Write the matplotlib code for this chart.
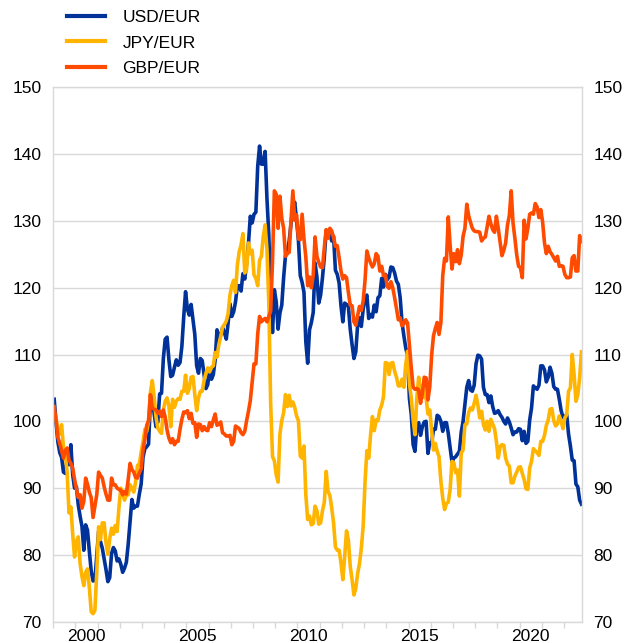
import matplotlib
matplotlib.use('Agg')
import matplotlib.pyplot as plt
import numpy as np

# monthly index values, Jan 1999 - Oct 2022
usd_eur = [
    103.3, 99.8, 96.9, 95.3, 94.6, 92.4, 92.2, 94.4, 93.5, 96.5, 92.0, 90.0,        # 1999
    90.2, 87.5, 85.8, 84.3, 80.7, 84.5, 83.7, 80.5, 77.6, 76.1, 76.2, 79.9,         # 2000
    83.5, 82.0, 81.0, 79.4, 77.8, 76.0, 76.6, 80.2, 81.1, 80.6, 79.1, 79.4,         # 2001
    78.6, 77.4, 78.0, 78.9, 81.6, 85.0, 88.3, 87.0, 87.3, 87.3, 89.1, 90.6,         # 2002
    94.6, 95.9, 96.2, 96.6, 103.1, 103.8, 101.2, 99.2, 99.9, 104.1, 104.2, 109.4,   # 2003
    112.3, 112.6, 109.2, 106.7, 106.9, 108.1, 109.2, 108.4, 108.8, 111.2, 115.6, 119.4,
    116.8, 115.9, 117.5, 115.2, 113.0, 108.3, 107.2, 109.4, 109.1, 107.0, 104.9, 105.5,
    107.7, 106.3, 107.0, 109.2, 113.7, 112.6, 112.9, 114.0, 113.3, 112.3, 114.7, 117.6,
    115.7, 116.4, 117.9, 120.3, 120.3, 119.5, 122.1, 121.3, 123.7, 126.6, 130.7, 129.7,
    131.0, 131.3, 138.2, 141.2, 138.5, 138.5, 140.4, 133.3, 127.9, 118.6, 113.3, 119.7,
    117.9, 113.8, 116.2, 117.4, 121.5, 124.8, 125.4, 127.0, 129.6, 131.9, 132.8, 130.1,
    127.1, 121.8, 120.8, 119.3, 111.9, 108.7, 113.7, 114.8, 116.3, 123.7, 121.6, 117.7,
    118.9, 121.5, 124.6, 128.6, 127.7, 128.1, 127.0, 127.7, 122.6, 122.0, 120.7, 117.3,
    114.9, 117.7, 117.5, 117.2, 113.8, 111.5, 109.4, 110.4, 114.4, 115.5, 114.2, 116.8,
    118.3, 118.9, 115.4, 116.0, 115.6, 117.4, 116.4, 118.5, 118.8, 121.4, 120.1, 122.0,
    121.2, 121.6, 123.1, 123.0, 122.2, 121.0, 120.5, 118.5, 114.8, 112.8, 111.0, 109.8,
    103.4, 101.0, 96.5, 95.5, 99.3, 99.8, 97.9, 99.2, 99.9, 100.0, 95.2, 96.8,
    96.7, 98.8, 98.8, 100.9, 100.7, 100.0, 98.5, 99.8, 99.8, 98.2, 96.1, 93.9,
    94.5, 94.7, 95.1, 95.5, 98.4, 100.0, 102.5, 105.1, 106.1, 104.7, 104.5, 105.4,
    108.6, 109.9, 109.8, 109.3, 105.1, 104.0, 104.0, 102.8, 103.8, 102.2, 101.2, 101.3,
    101.6, 101.0, 100.6, 100.0, 99.6, 100.5, 99.9, 99.0, 98.0, 98.4, 98.4, 98.9,
    98.8, 97.1, 98.5, 96.7, 97.0, 100.2, 102.0, 105.3, 105.0, 104.8, 105.4, 108.3,
    108.3, 107.7, 105.9, 106.6, 108.1, 107.2, 105.2, 104.8, 104.8, 103.3, 101.6, 100.6,
    100.7, 101.0, 98.1, 96.3, 94.2, 94.1, 90.6, 90.2, 88.2, 87.6,                   # 2022
]

jpy_eur = [
    100.9, 100.5, 98.6, 98.1, 99.5, 96.1, 95.0, 92.3, 86.3, 87.2, 83.1, 79.7,
    82.0, 82.7, 78.7, 76.8, 75.4, 77.4, 77.9, 75.1, 71.5, 71.2, 71.7, 77.4,
    84.2, 82.3, 84.8, 84.8, 81.8, 80.1, 82.4, 84.0, 83.1, 84.4, 83.5, 87.1,
    90.0, 89.3, 88.2, 89.0, 89.0, 90.5, 90.0, 89.4, 90.9, 93.4, 93.5, 95.4,
    96.9, 98.8, 98.5, 100.0, 104.3, 106.1, 103.7, 100.7, 99.0, 98.5, 98.2, 101.7,
    103.0, 103.5, 102.3, 99.2, 103.3, 102.1, 103.0, 103.4, 103.3, 104.5, 104.5, 106.9,
    104.2, 104.9, 106.6, 106.7, 104.0, 101.6, 103.5, 104.5, 104.5, 106.1, 107.2, 108.0,
    107.4, 108.1, 108.3, 110.3, 109.6, 111.5, 112.7, 114.1, 114.5, 115.0, 116.1, 118.9,
    120.3, 121.1, 119.3, 123.4, 125.4, 126.4, 128.1, 122.2, 122.8, 126.7, 125.1, 125.6,
    121.9, 121.4, 120.3, 124.1, 124.7, 127.7, 129.4, 125.7, 117.7, 102.6, 94.7, 94.1,
    92.0, 90.9, 98.1, 100.1, 101.3, 104.0, 102.2, 103.9, 102.3, 102.9, 102.1, 100.8,
    100.1, 94.8, 94.5, 96.3, 89.0, 85.3, 85.8, 84.5, 84.7, 87.3, 86.6, 84.6,
    84.8, 86.6, 87.9, 92.5, 89.5, 88.9, 87.0, 84.8, 81.2, 80.7, 80.7, 78.8,
    76.3, 79.7, 83.6, 82.2, 78.3, 76.3, 74.0, 75.0, 77.2, 78.7, 81.0, 84.3,
    90.9, 95.6, 94.5, 98.0, 100.7, 98.6, 100.2, 100.1, 101.7, 102.4, 103.7, 108.8,
    108.7, 107.0, 108.7, 108.8, 107.5, 106.6, 105.3, 105.3, 106.3, 105.1, 108.5, 110.5,
    105.6, 103.5, 100.2, 98.0, 103.5, 106.6, 104.2, 105.3, 103.6, 103.6, 101.1, 101.7,
    98.6, 95.7, 96.7, 95.5, 94.7, 91.0, 88.5, 86.8, 87.7, 87.9, 89.8, 94.0,
    93.8, 92.3, 92.7, 88.8, 95.3, 95.7, 99.5, 99.6, 101.3, 102.0, 101.7, 102.7,
    103.9, 102.4, 100.5, 101.5, 99.5, 98.7, 100.0, 98.5, 100.3, 99.6, 98.9, 97.0,
    94.5, 96.2, 96.5, 96.4, 94.5, 93.6, 93.3, 90.8, 90.8, 91.8, 92.4, 93.1,
    93.2, 92.2, 91.3, 89.9, 89.8, 93.0, 94.0, 95.9, 95.6, 95.3, 94.9, 97.0,
    97.0, 97.9, 99.4, 100.2, 101.8, 101.9, 100.1, 99.3, 99.6, 100.8, 100.0, 98.9,
    100.5, 101.0, 104.5, 105.0, 110.0, 107.0, 103.0, 104.0, 106.5, 110.4,
]

gbp_eur = [
    102.2, 100.2, 97.6, 96.7, 95.6, 94.5, 95.6, 96.0, 94.2, 93.7, 93.0, 91.3,
    89.9, 88.6, 89.0, 87.0, 88.0, 91.5, 90.6, 89.4, 88.6, 85.6, 87.3, 89.0,
    92.4, 91.9, 91.5, 90.2, 89.1, 88.2, 88.2, 91.5, 90.5, 90.5, 90.0, 89.8,
    89.7, 89.0, 89.5, 89.1, 91.3, 93.7, 92.8, 92.4, 91.6, 91.5, 92.3, 92.9,
    95.7, 97.3, 99.4, 100.1, 104.0, 102.0, 101.8, 101.7, 101.2, 101.5, 100.7, 101.7,
    100.6, 98.7, 97.5, 96.8, 97.4, 96.5, 97.0, 97.0, 98.8, 100.3, 101.4, 101.3,
    101.6, 100.4, 101.2, 99.7, 99.8, 97.6, 99.6, 99.5, 98.6, 99.2, 98.7, 98.6,
    99.8, 99.2, 100.2, 101.1, 99.4, 99.6, 99.9, 98.3, 98.1, 97.8, 97.8, 97.9,
    96.5, 97.0, 99.3, 99.1, 98.9, 98.3, 98.0, 98.5, 100.1, 101.5, 103.1, 105.8,
    108.6, 108.6, 113.1, 115.7, 114.9, 115.2, 115.4, 114.9, 115.7, 116.5, 124.0, 134.5,
    134.0, 128.9, 133.7, 130.4, 128.9, 124.7, 125.1, 125.3, 130.1, 134.5, 130.1, 130.9,
    127.3, 127.2, 131.0, 127.3, 124.6, 120.3, 121.6, 120.0, 121.9, 127.6, 124.7, 123.8,
    123.1, 123.0, 126.0, 128.7, 127.4, 128.9, 128.5, 127.5, 126.2, 126.3, 124.5, 122.5,
    121.3, 121.8, 121.5, 119.3, 117.4, 117.3, 114.9, 114.4, 115.8, 117.2, 116.6, 118.0,
    121.1, 125.5, 124.5, 123.7, 123.1, 123.6, 125.1, 124.7, 122.5, 123.2, 121.8, 121.9,
    120.2, 119.9, 120.9, 120.0, 118.5, 116.9, 115.2, 115.5, 114.3, 114.6, 115.2, 114.7,
    111.4, 108.0, 105.1, 104.8, 104.9, 104.7, 102.7, 104.2, 106.6, 106.5, 103.2, 105.2,
    109.9, 112.8, 113.9, 114.8, 113.0, 114.8, 121.8, 124.4, 124.0, 130.6, 126.3, 122.8,
    125.1, 123.9, 125.7, 123.6, 124.9, 127.7, 128.9, 132.5, 130.8, 129.8, 128.9, 128.5,
    128.4, 128.4, 128.3, 127.0, 127.4, 127.6, 129.1, 130.7, 129.6, 128.7, 128.3, 130.7,
    128.9, 126.8, 124.8, 125.6, 126.7, 129.4, 130.8, 134.5, 129.7, 127.4, 124.9, 123.2,
    123.0, 121.5, 130.1, 127.3, 128.9, 131.0, 131.2, 131.0, 132.6, 132.1, 130.5, 131.7,
    129.8, 126.7, 125.1, 126.2, 125.4, 125.0, 124.5, 124.0, 124.7, 123.2, 123.3, 123.2,
    122.0, 121.5, 121.5, 121.6, 124.5, 124.8, 122.5, 122.5, 127.8, 126.9,
]

series_names = ['USD/EUR', 'JPY/EUR', 'GBP/EUR']
year_labels = [2000, 2005, 2010, 2015, 2020]
first_year = 1999
colors = ['#003299', '#FFB400', '#FF4B00']

x = first_year + (np.arange(len(usd_eur)) + 0.5) / 12

plt.rcParams['font.family'] = ['Liberation Sans', 'DejaVu Sans']
fig = plt.figure(figsize=(6.26, 6.43), dpi=100)
ax = fig.add_axes([0.0851, 0.0331, 0.8441, 0.8311])

lines = []
for vals, name, c in zip([usd_eur, jpy_eur, gbp_eur], series_names, colors):
    ln, = ax.plot(x, vals, color=c, lw=2.6, label=name)
    lines.append(ln)

ax.set_ylim(70, 150)
ax.set_yticks(range(70, 151, 10))
ax.set_xlim(first_year, 2022.8)
ax.set_xticks([y + 0.5 for y in year_labels])
ax.set_xticklabels([str(y) for y in year_labels])
ax.set_xticks(range(first_year, 2023), minor=True)

ax.yaxis.grid(True, color='#d9d9d9', lw=1)
ax.set_axisbelow(True)
for s in ax.spines.values():
    s.set_color('#d9d9d9')
    s.set_linewidth(1)

ax.tick_params(axis='y', left=False, right=False, labelleft=True, labelright=True,
               labelsize=12.5, pad=5)
ax.tick_params(axis='x', which='major', length=0, labelsize=12.5, pad=5)
ax.tick_params(axis='x', which='minor', length=4, color='#d9d9d9', width=1)

leg = fig.legend(lines, series_names, loc='upper left', bbox_to_anchor=(0.107, 0.9853),
                 frameon=False, fontsize=12.5, handlelength=2.2, handletextpad=1.0,
                 labelspacing=0.62, borderpad=0, borderaxespad=0)
for h in leg.get_lines():
    h.set_linewidth(3)

plt.savefig('out.png', dpi=100)
